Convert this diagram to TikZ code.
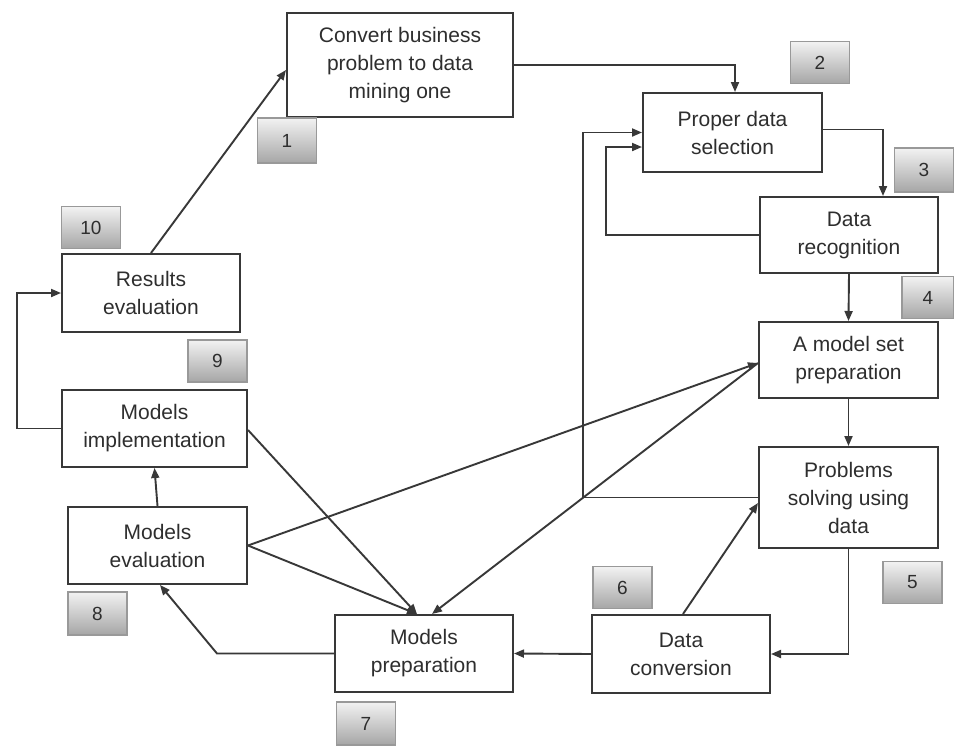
\documentclass[tikz,border=0pt]{standalone}
\usepackage{fontspec}
\setmainfont{Liberation Sans}
\usetikzlibrary{arrows.meta}
\definecolor{ink}{HTML}{2E2E2E}
\definecolor{edge}{HTML}{383838}
\begin{document}
\begin{tikzpicture}[x=1pt,y=-1pt,
  stage/.style={draw=edge, line width=2pt, fill=white, align=center,
    inner sep=0pt, text=ink, font=\fontsize{21}{28}\selectfont},
  badge/.style={draw=gray!80, line width=1.2pt, top color=gray!10, bottom color=gray!70,
    minimum width=59pt, minimum height=42pt, inner sep=0pt, text=ink,
    font=\fontsize{19}{22}\selectfont},
  arr/.style={draw=edge, line width=1.9pt, -{Triangle[length=10pt,width=8pt]}}]
\useasboundingbox (0,0) rectangle (954,748);
\fill[white] (0,0) rectangle (954,748);

% process stages
\node[stage, minimum width=226pt, minimum height=104pt] (b1) at (400,65) {Convert business\\problem to data\\mining one};
\node[stage, minimum width=179pt, minimum height=79pt] (b2) at (732.5,132.5) {Proper data\\selection};
\node[stage, minimum width=178pt, minimum height=76pt] (b3) at (849,235) {Data\\recognition};
\node[stage, minimum width=179pt, minimum height=76pt] (b4) at (848.5,360) {A model set\\preparation};
\node[stage, minimum width=179pt, minimum height=101pt] (b5) at (848.5,497.5) {Problems\\solving using\\data};
\node[stage, minimum width=178pt, minimum height=78pt] (b6) at (681,654) {Data\\conversion};
\node[stage, minimum width=178pt, minimum height=77pt] (b7) at (424,653.5) {Models\\preparation};
\node[stage, minimum width=179pt, minimum height=77pt] (b8) at (157.5,545.5) {Models\\evaluation};
\node[stage, minimum width=185pt, minimum height=77pt] (b9) at (154.5,428.5) {Models\\implementation};
\node[stage, minimum width=178pt, minimum height=78pt] (b10) at (151,293) {Results\\evaluation};

% step numbers
\node[badge, minimum height=45pt] (n1) at (287,140.5) {1};
\node[badge] (n2) at (820,62.5) {2};
\node[badge, minimum height=44pt] (n3) at (924,170) {3};
\node[badge, minimum width=52pt] (n4) at (928,297.5) {4};
\node[badge] (n5) at (912.5,582.5) {5};
\node[badge] (n6) at (622.5,587.5) {6};
\node[badge, minimum height=43pt] (n7) at (366,723.5) {7};
\node[badge, minimum height=43pt] (n8) at (97.5,613.5) {8};
\node[badge] (n9) at (217.5,361) {9};
\node[badge] (n10) at (91,227.5) {10};

% main flow
\draw[arr] (b1.east) -| ([xshift=2.5pt]b2.north);
\draw[arr] ([yshift=3pt]b2.east) -| ([xshift=-56pt]b3.north east);
\draw[arr] (b3.south) -- (b4.north);
\draw[arr] (b4.south) -- (b5.north);
\draw[arr] (b5.south) |- (b6.east);
\draw[arr] (b6.west) -- (b7.east);
\draw[arr] (b7.west) -- (217,653.5) -- ([xshift=2.5pt]b8.south);
\draw[arr] (b8.north) -- (b9.south);
\draw[arr] (b9.west) -- (17,428.5) |- (b10.west);
\draw[arr] (b10.north) -- ([yshift=-5pt]b1.west);

% feedback loops
\draw[arr] (b3.west) -| (606,147) -- ([yshift=-14.5pt]b2.west);
\draw[arr] (b5.west) -| (583,132.5) -- (b2.west);
\draw[arr] ([xshift=2pt]b6.north) -- ([yshift=-5.5pt]b5.west);

% cross links
\draw[arr] ([yshift=-1.5pt]b9.east) -- ([xshift=-7pt]b7.north);
\draw[arr] (b8.east) -- ([xshift=-7pt]b7.north);
\draw[arr] ([yshift=-3pt]b4.west) -- ([xshift=8pt]b7.north);
\draw[arr] (b8.east) -- ([yshift=-3pt]b4.west);
\end{tikzpicture}
\end{document}
